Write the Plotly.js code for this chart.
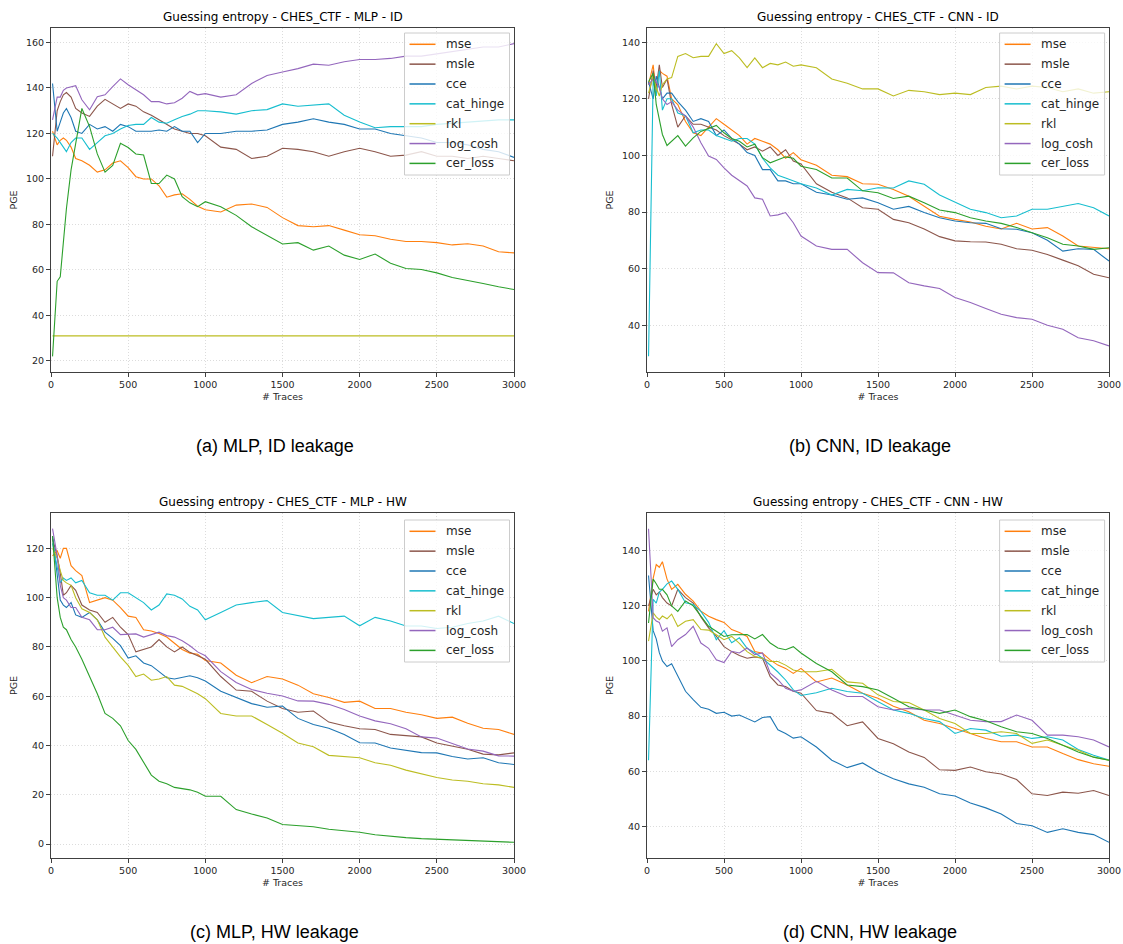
<!DOCTYPE html>
<html><head><meta charset="utf-8">
<script src="https://cdn.plot.ly/plotly-3.0.1.min.js"></script>
<style>html,body{margin:0;padding:0;background:#fff}#chart{width:1123px;height:944px}</style>
</head><body><div id="chart"></div>
<script>
// ---------- data ----------
const traces = [10,40,60,80,100,130,160,200,250,300,350,400,450,500,550,600,650,700,750,800,850,900,950,1000,1100,1200,1300,1400,1500,1600,1700,1800,1900,2000,2100,2200,2300,2400,2500,2600,2700,2800,2900,3000];
const seriesNames = ['mse','msle','cce','cat_hinge','rkl','log_cosh','cer_loss'];
const seriesColors = ['#ff7f0e','#8c564b','#1f77b4','#17becf','#bcbd22','#9467bd','#2ca02c'];
const panelTitles = ['Guessing entropy - CHES_CTF - MLP - ID','Guessing entropy - CHES_CTF - CNN - ID','Guessing entropy - CHES_CTF - MLP - HW','Guessing entropy - CHES_CTF - CNN - HW'];
const captions = ['(a) MLP, ID leakage','(b) CNN, ID leakage','(c) MLP, HW leakage','(d) CNN, HW leakage'];
const xTickVals = [0,500,1000,1500,2000,2500,3000];

// (a) MLP - ID
const mse_a = [121,115,117,118,117,114,109,108,106,103,104,107,108,105,101,100,100,97,92,93,93.5,91,88,86.5,85.5,88.5,89,87.5,83,79.5,79,79.5,77.5,75.5,75,73.5,72.5,72.5,72,71,71.5,70.5,68,67.5];
const msle_a = [110,130,134,137,138,136,131,129,127.5,132,135,133,131,133,132,129.5,128,126,124,122,121,120,120,119,114,113,109,110,113.5,113,112,110,112,113.5,112,110,110.5,112,110,110,109,110,109,108];
const cce_a = [142,121,125,129,131,127,121,120,124,122,123,121,124,123,121,121,121,121.5,121,123,121,121,116,120,120,121,121,121.5,124,125,126.5,125,124,122,122,120,119,118,116,116,115,113,112,109.5];
const cat_hinge_a = [120,118,116,114,112,116,118,118,113,116,119,120,122,123.5,124,124,127,125,124.5,126,127.5,128.5,130,130,129.5,128.5,130,130.5,133,132,132.5,133,128,125,122.5,123,123,123,124,124.5,125,125.5,126,126];
const rkl_a = [31,31,31,31,31,31,31,31,31,31,31,31,31,31,31,31,31,31,31,31,31,31,31,31,31,31,31,31,31,31,31,31,31,31,31,31,31,31,31,31,31,31,31,31];
const log_cosh_a = [126,136,136,139,140,140.6,141,134.8,130.4,136.2,137,140.6,144,141.4,139,137,134,134,133,133.5,135.5,138.5,137,137.5,136,137,142,145.5,147,148.5,150.5,150,151.5,152.5,152.5,153,154,154,155,156,157,158,158,159.5];
const cer_loss_a = [22,55,57,72,87,104,115,131,123,111,103,106,115.7,113.8,111,110.5,98,98,101.7,100,92.2,89.5,87.8,90,87.8,84,79,75.3,71.4,72,68.7,70.5,66.5,64.6,67,62.9,60.6,60.2,58.7,56.7,55.5,54,52.6,51.4];

// (b) CNN - ID
const mse_b = [125,132,122,130,129,128,120,118,112,108,107,110,113,111,109,107,104,106,105,104,102,99,101,98.5,96.5,93,92.5,90,89.8,88,85.6,82.1,78.5,77.4,76.5,75,74,76,74,74.5,71.5,68,67.4,67];
const msle_b = [120,130,124,132,124,127,118,110,114,111,111,110,109,107,105.5,104,102,103,101.5,103,100,102,98,97,90,87,85,81.5,81,77.4,76.2,74,71.3,69.8,69.5,69.4,68.6,67,66.5,65,63,61,58,56.8];
const cce_b = [126,120,128,124,120,122,122,119,116,112,113,112,107,109,106,104,101,100,95,95,91,91,90,90,87,86,84.5,85,83.3,81,82,79.8,78,76.8,76.2,76,74.1,73.9,72.7,70,66.2,67,66.8,62.7];
const cat_hinge_b = [29,127,121,130,116,120,120,115,114,108,109,109,107,106,105,106,106,104,99,95.6,93,92,91,90,88.5,86,88,87.5,88.6,88.5,91,89.8,86,83.5,81,79.8,78,78.6,81,81,82,83,81.5,78.6];
const rkl_b = [122,128,124,121,125,127,127.5,135,136,134.5,135,135,139.5,136,137,134.5,131,134.5,131,132.5,132,133,131.5,132,131,127,125.5,123.5,123.5,121,123,122.5,121.5,122,121.5,124,124.5,123.5,124.5,124,122.5,123.5,122,122.5];
const log_cosh_b = [125,127,126,124,120,118,119,116,114,110,104.5,99.8,98.6,95.6,93,91,89.2,85,84.5,78.6,79,79.8,76.2,71.5,68,66.8,66.8,62.1,58.6,58.5,55,53.9,53,49.8,48,45.9,43.9,42.7,42.1,40,38.6,35.6,34.5,32.7];
const cer_loss_b = [126,129,118,112,107.4,103.5,105,107,103.3,106.2,108.5,109.5,110.6,108,106,105,103,104,99.2,97.4,98.5,99.5,99,96.2,95,92,92,87.5,86.8,84.8,85.6,83.3,80.7,79.8,78,76.8,76,74.5,72.7,70.9,68.6,68,66.8,67.4];

// (c) MLP - HW
const mse_c = [117,119,116,120,120,113,111,109,98,99,100,99,96,92.5,92,87,86.5,85.5,84,81.5,79,77.5,77,74.5,73.5,68.5,65.5,68,67,64.5,61,59.5,57.5,58,55,55,53.5,52.5,51,51.5,49,47,46.5,44.5];
const msle_c = [124,117,110,101,102,105,103,97,95,94,90,92,88,85,78,79,80,83,80,78,80,77.8,76.5,75,68,62.5,62,58,55,53.5,54,49.5,48,46.8,46.5,44.5,44,43.5,41,39.8,38.5,36.5,36.2,37];
const cce_c = [125,108,99,97,96,98,93,92,94,91,86,83.5,80.5,75.5,76.4,73.5,72.4,70,67.5,67,67.5,68.3,67.5,66.2,62,59.5,57,55.5,56,51,48.5,47,44.5,41.1,41,39,38,37.1,37,35.5,34.5,35,33,32.3];
const cat_hinge_c = [122,112,106,108,107,108,106,107,102,101,101,99,102,102,100,98,95,97,101.5,101,99.5,96.5,95,91,94,97,98,98.8,94,92.7,91.5,92,92.5,88.6,92,90.5,88.5,88.5,87.5,88,89.5,90.5,92.5,89.5];
const rkl_c = [120,116,111,107,106,105,100,95.5,94,91,84,80,76,72.5,68,69,66.5,67,68,64.5,64,62.5,61,59,53,52,52,48.5,45,41,39.5,36,35.5,35,33,32,30,28.5,27,26,25.5,24.5,24,23];
const log_cosh_c = [128,117,105,100,99,96,96,92,91,87,87,88,85,85,85.3,84,85,86,84.6,84,82.5,80.5,78,76.4,70,65.6,62.7,61.2,60.1,58.1,58,56.7,54.6,52,50,48.8,46.8,43.5,43,40.8,38.6,37.7,35.8,35.7];
const cer_loss_c = [125,100,92,88,87,83,80,75,68,61,53,51,48,42,38.4,33,28,25.5,24.5,23,22.5,22,21,19.4,19.4,14,12.2,10.6,7.9,7.4,7,6,5.4,4.8,3.8,3.1,2.6,2.2,1.9,1.6,1.3,1.1,0.9,0.7];

// (d) CNN - HW
const mse_d = [118,130,135,134,136,129.7,126,127.8,124.2,121.7,118.1,116.2,115,114,111.4,110.3,108.9,103.4,102.8,100.4,98.5,97.3,95.5,97.3,92.4,93.8,91.3,88.3,86.5,83.6,81.6,78.5,77.3,75.5,73.5,71.9,70.7,70.7,68.8,68.8,66.4,64.2,62.7,61.8];
const msle_d = [120,126,124,125,123,121,120,126,123,121,116,112,109,105.2,103.4,102,101,101.5,101,94.3,91.3,90.7,89,88.3,82,81,76.5,77.9,71.9,70,67,65,60.5,60.3,61.5,59.8,59,57,51.8,51.2,52.4,52,53,51.2];
const cce_d = [131,111,108,103,100,98,99,94.6,89,86,83.2,82.5,81,81.4,80,80.4,79,77.9,79.5,79.8,75,73.7,72,72.5,68.8,64,61.3,63,59.7,57.3,55.4,54.2,51.8,51,48.5,46.7,44.5,41,40.2,37.8,39.1,37.8,37,34.2];
const cat_hinge_d = [64,122.4,121,125,126,128,129,126,121.1,120.5,118,114,107.7,111,106.6,108.4,104.6,103,101,98.5,96,93.1,89.5,87.5,88.5,90.1,88.9,88.3,85.3,82.2,81,79.1,78,73.7,75.5,74.9,72.7,73.1,71.9,72.5,71.3,67.9,65.8,64];
const rkl_d = [107.2,117.5,116,115,116.3,115.3,117,112.5,114.4,115,111.4,111.2,109.5,107.7,108.9,106.4,103.4,101.6,101,99.8,99.8,98.5,96.7,96.1,96.1,97,92.4,91.9,87.7,85.3,84.9,82.2,79.1,77.3,73.7,73.7,74.3,73.7,70.1,71.3,69.4,67.6,65.1,64];
const log_cosh_d = [148,115.7,114.5,114,110.8,112,105.2,107.7,109.6,112.6,106.5,104.6,100.4,99.4,103.5,102.9,104.7,102.3,102.9,95.6,93.2,90.1,89,89.5,92.6,89.5,87.1,87.1,83.4,82.2,82.8,82.2,82.2,80.4,78.5,78,78,80.4,78.5,73.1,73.1,72.5,71.3,68.8];
const cer_loss_d = [113.8,129.7,128,126,126,124,120,118,121.8,120,116.3,112.6,110.8,108.9,109.5,109.6,109.6,108,109.6,106.5,104.7,104.1,105.2,102.9,99.1,96.1,91.3,90.7,89.5,86.5,83.4,82.2,81,82.2,79.8,78.3,76.1,74.3,73.7,71.9,69.4,67,65.1,64];

// ---------- build ----------
const panelSeries = [
  [mse_a, msle_a, cce_a, cat_hinge_a, rkl_a, log_cosh_a, cer_loss_a],
  [mse_b, msle_b, cce_b, cat_hinge_b, rkl_b, log_cosh_b, cer_loss_b],
  [mse_c, msle_c, cce_c, cat_hinge_c, rkl_c, log_cosh_c, cer_loss_c],
  [mse_d, msle_d, cce_d, cat_hinge_d, rkl_d, log_cosh_d, cer_loss_d]
];
const W = 1123, H = 944;
const colX = [[51/W, 514/W], [647/W, 1109/W]];
const rowY = [[1-372/H, 1-28/H], [1-858/H, 1-513/H]];
const FONT = 'DejaVu Sans, sans-serif';
const TXT = '#262626';
// legend box geometry in pixels (left, top) per panel, entry spacing
const legendBox = [[404.5, 33], [999.6, 33], [404.5, 520], [999.6, 520]];
const LEG_W = 105, LEG_H = 142, LEG_STEP = 19.85;
const px = v => v / W, py = v => 1 - v / H;

const data = [];
const layout = {
  width: W, height: H, autosize: false,
  margin: {l:0, r:0, t:0, b:0, pad:0},
  paper_bgcolor: '#ffffff', plot_bgcolor: '#ffffff',
  font: {family: FONT, color: TXT, size: 10},
  showlegend: false, hovermode: false,
  annotations: [], shapes: []
};

panelSeries.forEach((series, p) => {
  const col = p % 2, row = Math.floor(p / 2);
  const sfx = p === 0 ? '' : String(p + 1);
  series.forEach((vals, i) => {
    data.push({
      type: 'scatter', mode: 'lines',
      x: traces, y: vals,
      name: seriesNames[i], showlegend: false,
      line: {color: seriesColors[i], width: 1.1},
      xaxis: 'x' + sfx, yaxis: 'y' + sfx
    });
  });
  // y range with matplotlib-like 5% margins
  let mn = Infinity, mx = -Infinity;
  series.forEach(v => v.forEach(d => { if (d < mn) mn = d; if (d > mx) mx = d; }));
  const pad = (mx - mn) * 0.05;
  const axBase = {
    showline: true, mirror: true, linecolor: '#404040', linewidth: 1,
    ticks: 'outside', ticklen: 4, tickwidth: 1, tickcolor: '#404040',
    showgrid: true, gridcolor: '#dcdcdc', gridwidth: 1, griddash: '1px,2px',
    zeroline: false, tickfont: {family: FONT, size: 9.5, color: TXT}
  };
  layout['xaxis' + sfx] = Object.assign({}, axBase, {
    domain: colX[col], anchor: 'y' + sfx, range: [0, 3000],
    tickmode: 'array', tickvals: xTickVals, ticktext: xTickVals.map(String),
    title: {text: '# Traces', font: {family: FONT, size: 9.5, color: TXT}, standoff: 3}
  });
  layout['yaxis' + sfx] = Object.assign({}, axBase, {
    domain: rowY[row], anchor: 'x' + sfx, range: [mn - pad, mx + pad],
    tick0: 0, dtick: 20,
    title: {text: 'PGE', font: {family: FONT, size: 9.5, color: TXT}, standoff: 6}
  });

  // legend (matplotlib style, semi-transparent box)
  const [lx, ly] = legendBox[p];
  layout.shapes.push({
    type: 'rect', xref: 'paper', yref: 'paper', layer: 'above',
    x0: px(lx), x1: px(lx + LEG_W), y0: py(ly), y1: py(ly + LEG_H),
    fillcolor: 'rgba(255,255,255,0.8)', line: {color: '#cccccc', width: 1}
  });
  seriesNames.forEach((nm, i) => {
    const cy = ly + 11.3 + LEG_STEP * i;
    layout.shapes.push({
      type: 'line', xref: 'paper', yref: 'paper', layer: 'above',
      x0: px(lx + 5), x1: px(lx + 31), y0: py(cy), y1: py(cy),
      line: {color: seriesColors[i], width: 1.5}
    });
    layout.annotations.push({
      xref: 'paper', yref: 'paper', x: px(lx + 39), y: py(cy),
      xanchor: 'left', yanchor: 'middle', showarrow: false,
      text: nm, font: {family: FONT, size: 12, color: TXT}
    });
  });

  layout.annotations.push({
    xref: 'paper', yref: 'paper', x: (colX[col][0] + colX[col][1]) / 2, y: rowY[row][1],
    xanchor: 'center', yanchor: 'bottom', yshift: 2, showarrow: false,
    text: panelTitles[p], font: {family: FONT, size: 12, color: '#000'}
  });
  layout.annotations.push({
    xref: 'paper', yref: 'paper', x: (col === 0 ? 274.5 : 870) / W, y: 1 - (row === 0 ? 446 : 932) / H,
    xanchor: 'center', yanchor: 'middle', showarrow: false,
    text: captions[p], font: {family: 'Liberation Sans, Arial, sans-serif', size: 18, color: '#000'}
  });
});

Plotly.newPlot('chart', data, layout, {staticPlot: true, displayModeBar: false});
</script>
</body></html>
